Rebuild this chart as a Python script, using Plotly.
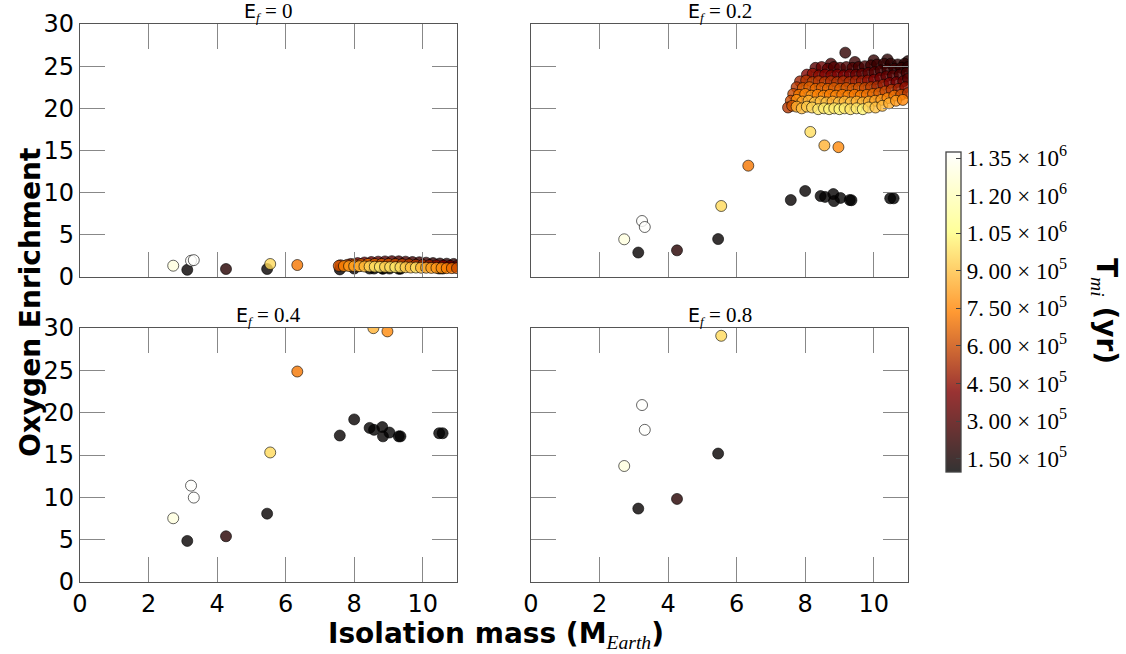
import plotly.graph_objects as go

W, H = 1126, 654
ML, MR, MT, MB = 40, 10, 10, 60
PW, PH = W - ML - MR, H - MT - MB

# ---------------- data ----------------
EF_LABELS = ["0", "0.2", "0.4", "0.8"]

# individual planets (same objects in every panel), sorted by isolation mass
PLANET_X = [2.72, 3.13, 3.24, 3.32, 4.26, 5.46, 5.55, 6.34, 7.58, 8.00, 8.15, 8.45,
            8.56, 8.58, 8.82, 8.84, 8.97, 9.03, 9.30, 9.35, 10.48, 10.58]
PLANET_T = [1.29e6, 0.11e6, 1.37e6, 1.37e6, 0.19e6, 0.11e6, 0.96e6, 0.71e6, 0.11e6, 0.11e6,
            0.97e6, 0.105e6, 0.86e6, 0.10e6, 0.105e6, 0.105e6, 0.76e6, 0.10e6, 0.10e6, 0.10e6,
            0.098e6, 0.097e6]
PLANET_Y_EF0 = [1.34, 0.85, 1.93, 2.00, 0.95, 0.95, 1.54, 1.42, 0.90, 1.00, 1.30, 1.00,
                1.25, 1.00, 1.02, 0.98, 1.20, 1.00, 0.98, 0.98, 1.00, 1.00]
PLANET_Y_EF02 = [4.47, 2.90, 6.64, 5.93, 3.16, 4.50, 8.42, 13.20, 9.13, 10.20, 17.20, 9.60,
                 15.60, 9.50, 9.84, 9.00, 15.40, 9.37, 9.13, 9.10, 9.33, 9.33]
PLANET_Y_EF04 = [7.53, 4.85, 11.38, 9.97, 5.40, 8.07, 15.30, 24.86, 17.30, 19.20, 33.10, 18.20,
                 29.98, 17.97, 18.30, 17.20, 29.60, 17.65, 17.20, 17.20, 17.57, 17.57]
PLANET_Y_EF08 = [13.70, 8.67, 20.90, 17.97, 9.81, 15.17, 29.08, 48.50, 33.50, 37.50, 64.00, 35.80,
                 58.50, 35.50, 36.00, 34.00, 57.50, 35.00, 34.00, 34.00, 34.50, 34.50]

# dense group of solutions, (mass, enrichment, T_mi), listed top rows first
CLUSTER_EF0 = [
    (7.90, 1.55, 0.45e6), (8.10, 1.65, 0.40e6), (8.30, 1.72, 0.38e6), (8.50, 1.78, 0.35e6),
    (8.70, 1.82, 0.33e6), (8.90, 1.85, 0.30e6), (9.10, 1.88, 0.30e6), (9.30, 1.86, 0.28e6),
    (9.50, 1.82, 0.28e6), (9.70, 1.78, 0.26e6), (9.90, 1.75, 0.25e6), (10.10, 1.70, 0.24e6),
    (10.30, 1.65, 0.22e6), (10.50, 1.60, 0.22e6), (10.70, 1.58, 0.20e6), (10.90, 1.55, 0.20e6),
    (7.60, 1.40, 0.55e6), (7.80, 1.45, 0.62e6), (8.00, 1.50, 0.66e6), (8.20, 1.52, 0.68e6),
    (8.40, 1.55, 0.70e6), (8.60, 1.55, 0.68e6), (8.80, 1.55, 0.66e6), (9.00, 1.55, 0.64e6),
    (9.20, 1.55, 0.62e6), (9.40, 1.52, 0.60e6), (9.60, 1.50, 0.58e6), (9.80, 1.45, 0.56e6),
    (10.00, 1.42, 0.54e6), (10.20, 1.40, 0.50e6), (10.40, 1.38, 0.46e6), (10.60, 1.35, 0.42e6),
    (10.80, 1.32, 0.38e6), (11.00, 1.30, 0.35e6),
    (7.55, 1.32, 0.62e6), (7.70, 1.30, 0.75e6), (7.85, 1.30, 0.80e6), (8.00, 1.28, 0.82e6),
    (8.15, 1.28, 0.85e6), (8.30, 1.25, 0.88e6), (8.45, 1.25, 0.95e6), (8.60, 1.22, 0.98e6),
    (8.75, 1.20, 1.00e6), (8.90, 1.20, 0.95e6), (9.05, 1.18, 0.98e6), (9.20, 1.17, 1.00e6),
    (9.35, 1.15, 0.97e6), (9.50, 1.15, 0.93e6), (9.65, 1.12, 0.90e6), (9.80, 1.12, 0.98e6),
    (9.95, 1.10, 0.88e6), (10.10, 1.10, 0.85e6), (10.25, 1.08, 0.82e6), (10.40, 1.08, 0.80e6),
    (10.55, 1.06, 0.78e6), (10.70, 1.05, 0.75e6), (10.85, 1.05, 0.70e6), (11.00, 1.05, 0.62e6),
]

CLUSTER_EF02 = [
    (9.17, 26.6, 0.22e6),
    (8.75, 25.3, 0.27e6), (9.45, 25.5, 0.24e6), (10.00, 25.7, 0.22e6), (10.40, 25.8, 0.20e6),
    (11.00, 25.6, 0.18e6),
    (8.30, 24.8, 0.32e6), (8.48, 24.9, 0.35e6), (8.66, 24.7, 0.33e6), (8.84, 24.9, 0.30e6),
    (9.02, 24.8, 0.31e6), (9.20, 24.9, 0.28e6), (9.38, 24.8, 0.29e6), (9.56, 24.9, 0.27e6),
    (9.74, 25.0, 0.26e6), (9.92, 25.1, 0.25e6), (10.10, 25.2, 0.24e6), (10.30, 25.3, 0.22e6),
    (10.50, 25.3, 0.21e6), (10.70, 25.2, 0.20e6), (10.90, 25.3, 0.19e6),
    (8.05, 24.0, 0.42e6), (8.22, 24.1, 0.45e6), (8.40, 23.9, 0.44e6), (8.58, 24.0, 0.42e6),
    (8.76, 23.9, 0.43e6), (8.94, 24.0, 0.40e6), (9.12, 23.9, 0.41e6), (9.30, 24.0, 0.38e6),
    (9.48, 24.0, 0.36e6), (9.66, 24.1, 0.34e6), (9.84, 24.2, 0.32e6), (10.02, 24.3, 0.30e6),
    (10.20, 24.5, 0.27e6), (10.40, 24.6, 0.25e6), (10.60, 24.7, 0.23e6), (10.80, 24.8, 0.22e6),
    (11.00, 24.9, 0.20e6),
    (7.85, 23.2, 0.50e6), (8.03, 23.3, 0.55e6), (8.21, 23.1, 0.57e6), (8.39, 23.2, 0.55e6),
    (8.57, 23.1, 0.56e6), (8.75, 23.2, 0.53e6), (8.93, 23.1, 0.55e6), (9.11, 23.2, 0.52e6),
    (9.29, 23.1, 0.53e6), (9.47, 23.2, 0.50e6), (9.65, 23.2, 0.48e6), (9.83, 23.3, 0.45e6),
    (10.01, 23.4, 0.42e6), (10.19, 23.6, 0.38e6), (10.37, 23.8, 0.34e6), (10.56, 23.9, 0.30e6),
    (10.76, 24.0, 0.28e6), (10.96, 24.2, 0.26e6),
    (7.75, 22.5, 0.55e6), (7.93, 22.4, 0.65e6), (8.12, 22.5, 0.66e6), (8.30, 22.3, 0.68e6),
    (8.48, 22.4, 0.65e6), (8.66, 22.3, 0.67e6), (8.84, 22.4, 0.64e6), (9.02, 22.3, 0.66e6),
    (9.20, 22.4, 0.63e6), (9.38, 22.3, 0.64e6), (9.56, 22.4, 0.62e6), (9.74, 22.4, 0.60e6),
    (9.92, 22.5, 0.57e6), (10.10, 22.6, 0.52e6), (10.28, 22.8, 0.48e6), (10.46, 23.0, 0.42e6),
    (10.66, 23.1, 0.38e6), (10.86, 23.2, 0.35e6), (11.00, 23.5, 0.30e6),
    (7.65, 21.7, 0.60e6), (7.82, 21.6, 0.72e6), (8.00, 21.7, 0.75e6), (8.18, 21.5, 0.78e6),
    (8.36, 21.6, 0.74e6), (8.54, 21.5, 0.76e6), (8.72, 21.6, 0.73e6), (8.90, 21.5, 0.75e6),
    (9.08, 21.6, 0.72e6), (9.26, 21.5, 0.74e6), (9.44, 21.6, 0.72e6), (9.62, 21.5, 0.73e6),
    (9.80, 21.6, 0.70e6), (9.98, 21.7, 0.68e6), (10.16, 21.8, 0.65e6), (10.34, 22.0, 0.60e6),
    (10.52, 22.2, 0.55e6), (10.72, 22.3, 0.50e6), (10.92, 22.5, 0.45e6),
    (7.58, 20.9, 0.60e6), (7.75, 21.0, 0.78e6), (7.92, 20.8, 0.82e6), (8.10, 20.9, 0.86e6),
    (8.28, 20.7, 0.90e6), (8.45, 20.8, 0.88e6), (8.62, 20.7, 0.90e6), (8.80, 20.8, 0.85e6),
    (8.98, 20.7, 0.90e6), (9.15, 20.8, 0.87e6), (9.33, 20.7, 0.90e6), (9.50, 20.8, 0.86e6),
    (9.68, 20.7, 0.88e6), (9.86, 20.8, 0.85e6), (10.04, 20.9, 0.82e6), (10.22, 21.0, 0.80e6),
    (10.40, 21.2, 0.75e6), (10.60, 21.5, 0.70e6), (10.80, 21.6, 0.62e6), (11.00, 21.8, 0.55e6),
    (7.50, 20.1, 0.55e6), (7.62, 20.3, 0.62e6), (7.75, 20.2, 0.85e6), (7.90, 20.0, 0.88e6),
    (8.05, 20.2, 0.92e6), (8.20, 20.1, 0.95e6), (8.38, 19.9, 1.00e6), (8.55, 20.0, 1.00e6),
    (8.70, 19.9, 1.02e6), (8.85, 20.0, 1.00e6), (9.00, 19.9, 1.03e6), (9.15, 20.0, 1.00e6),
    (9.32, 19.9, 0.98e6), (9.50, 20.0, 1.00e6), (9.68, 19.9, 1.03e6), (9.85, 20.1, 0.95e6),
    (10.05, 20.1, 0.90e6), (10.25, 20.3, 0.88e6), (10.45, 20.6, 0.85e6), (10.65, 20.9, 0.80e6),
    (10.85, 21.0, 0.75e6),
]

CBAR_TICKS = [1.5e5, 3.0e5, 4.5e5, 6.0e5, 7.5e5, 9.0e5, 1.05e6, 1.2e6, 1.35e6]
CBAR_TEXT = ["1.\u200950 × 10<sup>5</sup>", "3.\u200900 × 10<sup>5</sup>",
             "4.\u200950 × 10<sup>5</sup>", "6.\u200900 × 10<sup>5</sup>",
             "7.\u200950 × 10<sup>5</sup>", "9.\u200900 × 10<sup>5</sup>",
             "1.\u200905 × 10<sup>6</sup>", "1.\u200920 × 10<sup>6</sup>",
             "1.\u200935 × 10<sup>6</sup>"]
T_MIN, T_MAX = 0.0965e6, 1.374e6

X_TICKS = [0, 2, 4, 6, 8, 10]
Y_TICKS = [0, 5, 10, 15, 20, 25, 30]

# afmhot colormap drawn with alpha 0.8
A = 0.8
AFMHOT = [
    [0.00, f"rgba(0,0,0,{A})"],
    [0.25, f"rgba(128,0,0,{A})"],
    [0.50, f"rgba(255,128,0,{A})"],
    [0.75, f"rgba(255,255,128,{A})"],
    [1.00, f"rgba(255,255,255,{A})"],
]


def px_x(px):
    return (px - ML) / PW


def px_y(py):
    return (H - MB - py) / PH


# ---------------- figure ----------------
fig = go.Figure()

panels = [
    (PLANET_Y_EF0, CLUSTER_EF0),
    (PLANET_Y_EF02, CLUSTER_EF02),
    (PLANET_Y_EF04, []),
    (PLANET_Y_EF08, []),
]

for i, (py, cl) in enumerate(panels):
    xs = list(PLANET_X) + [c[0] for c in cl]
    ys = list(py) + [c[1] for c in cl]
    ts = list(PLANET_T) + [c[2] for c in cl]
    suffix = "" if i == 0 else str(i + 1)
    fig.add_trace(go.Scatter(
        x=xs, y=ys, mode="markers",
        xaxis="x" + suffix, yaxis="y" + suffix,
        marker=dict(size=11, color=ts, coloraxis="coloraxis",
                    line=dict(color="rgba(0,0,0,0.6)", width=1)),
        showlegend=False, hoverinfo="skip",
    ))

# panel geometry in pixels
COL_X = [(80, 457), (531, 908)]
ROW_Y = [(24, 277), (328, 582)]

tickfont = dict(family="DejaVu Sans", size=24, color="black")
layout_axes = {}
for i in range(4):
    r, c = divmod(i, 2)
    suffix = "" if i == 0 else str(i + 1)
    common = dict(showline=True, linecolor="#555", linewidth=1.3, mirror="ticks",
                  ticks="inside", ticklen=25, tickwidth=1.3, tickcolor="#888",
                  showgrid=False, zeroline=False, tickfont=tickfont, fixedrange=True,
                  automargin=False)
    layout_axes["xaxis" + suffix] = dict(
        common, domain=[px_x(COL_X[c][0]), px_x(COL_X[c][1])], range=[0, 11],
        tickvals=X_TICKS, showticklabels=(r == 1), anchor="y" + suffix)
    layout_axes["yaxis" + suffix] = dict(
        common, domain=[px_y(ROW_Y[r][1]), px_y(ROW_Y[r][0])], range=[0, 30],
        tickvals=Y_TICKS, showticklabels=(c == 0), anchor="x" + suffix)

fig.update_layout(**layout_axes)

fig.update_layout(
    width=W, height=H, autosize=False,
    margin=dict(l=ML, r=MR, t=MT, b=MB, autoexpand=False),
    paper_bgcolor="white", plot_bgcolor="white",
    coloraxis=dict(
        colorscale=AFMHOT, cmin=T_MIN, cmax=T_MAX,
        colorbar=dict(
            x=px_x(946), xanchor="left", xpad=0,
            y=px_y(312), yanchor="middle", ypad=0,
            len=320 / PH, lenmode="fraction", thickness=15, thicknessmode="pixels",
            outlinecolor="#444", outlinewidth=1.3,
            tickvals=CBAR_TICKS, ticktext=CBAR_TEXT,
            ticks="inside", ticklen=5, tickcolor="#444",
            tickfont=dict(family="Liberation Serif", size=23, color="black"),
        ),
    ),
)

ann = []
serif = "font-family:'Liberation Serif'"
for i, lab in enumerate(EF_LABELS):
    r, c = divmod(i, 2)
    cx = px_x((COL_X[c][0] + COL_X[c][1]) / 2)
    ty = px_y(ROW_Y[r][0])
    ann.append(dict(
        x=cx, y=ty, xref="paper", yref="paper", xanchor="center", yanchor="bottom",
        yshift=-3, showarrow=False,
        text=f"E<sub><span style=\"{serif}\"><i>f</i></span></sub>"
             f"<span style=\"{serif};font-size:21px\"> = {lab}</span>",
        font=dict(family="DejaVu Sans", size=19, color="black"),
    ))

ann.append(dict(
    x=px_x(30), y=px_y(303), xref="paper", yref="paper", textangle=-90,
    xanchor="center", yanchor="middle",
    showarrow=False, text="<b>Oxygen Enrichment</b>",
    font=dict(family="DejaVu Sans", size=28, color="black"),
))
ann.append(dict(
    x=px_x(496), y=px_y(635), xref="paper", yref="paper",
    xanchor="center", yanchor="middle",
    showarrow=False,
    text=f"<b>Isolation mass (M</b><sub><span style=\"{serif}\"><i>Earth</i></span></sub><b>)</b>",
    font=dict(family="DejaVu Sans", size=28, color="black"),
))
ann.append(dict(
    x=px_x(1105), y=px_y(311), xref="paper", yref="paper", textangle=90,
    xanchor="center", yanchor="middle",
    showarrow=False,
    text=f"<b>T</b><sub><span style=\"{serif}\"><i>mi</i></span></sub><b> (yr)</b>",
    font=dict(family="DejaVu Sans", size=28, color="black"),
))
fig.update_layout(annotations=ann)

fig.write_html("out.html", config={"displayModeBar": False},
               post_script="document.body.style.margin='0px';")
